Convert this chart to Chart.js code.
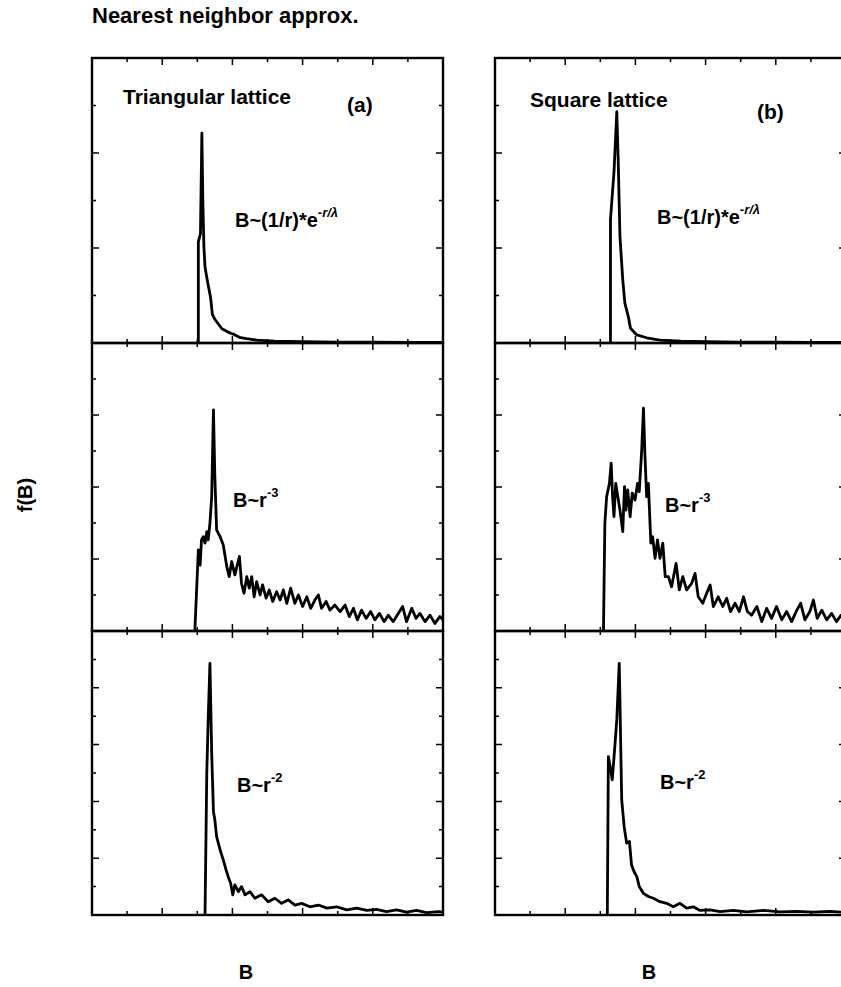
<!DOCTYPE html>
<html>
<head>
<meta charset="utf-8">
<script src="https://cdn.jsdelivr.net/npm/chart.js@4/dist/chart.umd.min.js"></script>
<style>
  html, body { margin: 0; padding: 0; background: #fff; overflow: hidden; width: 841px; height: 987px; }
  body { position: relative; font-family: "Liberation Sans", Arial, Helvetica, sans-serif; font-weight: bold; color: #000; }
  canvas { position: absolute; }
  .t { position: absolute; line-height: 1; white-space: nowrap; }
  .t sup { font-size: 13px; position: relative; top: -4px; vertical-align: top; }
  .t sup i { font-style: italic; }
</style>
</head>
<body>
<div class="t" style="left:92px; top:5px; font-size:22px;">Nearest neighbor approx.</div>
<div class="t" style="left:123px; top:86px; font-size:21px;">Triangular lattice</div>
<div class="t" style="left:347px; top:94px; font-size:21px;">(a)</div>
<div class="t" style="left:530px; top:89px; font-size:21px;">Square lattice</div>
<div class="t" style="left:757px; top:101px; font-size:21px;">(b)</div>

<div class="t" style="left:235px; top:210px; font-size:20px;">B~(1/r)*e<sup>-<i>r/λ</i></sup></div>
<div class="t" style="left:657px; top:207px; font-size:20px;">B~(1/r)*e<sup>-<i>r/λ</i></sup></div>
<div class="t" style="left:233px; top:490px; font-size:20px;">B~r<sup>-3</sup></div>
<div class="t" style="left:665px; top:495px; font-size:20px;">B~r<sup>-3</sup></div>
<div class="t" style="left:237px; top:775px; font-size:20px;">B~r<sup>-2</sup></div>
<div class="t" style="left:660px; top:772px; font-size:20px;">B~r<sup>-2</sup></div>

<div class="t" style="left:25px; top:495px; font-size:20px; transform: translate(-50%,-50%) rotate(-90deg);">f(B)</div>
<div class="t" style="left:246px; top:972px; font-size:20px; transform: translate(-50%,-50%);">B</div>
<div class="t" style="left:649px; top:972px; font-size:20px; transform: translate(-50%,-50%);">B</div>

<canvas id="triExp"></canvas>
<canvas id="triCube"></canvas>
<canvas id="triSq"></canvas>
<canvas id="sqExp"></canvas>
<canvas id="sqCube"></canvas>
<canvas id="sqSq"></canvas>

<script>
// Field distributions f(B) for nearest-neighbour sums, in arbitrary units.
// Triangular lattice, B ~ (1/r) e^(-r/lambda)
const triExpB = [3.02, 3.03, 3.09, 3.13, 3.16, 3.19, 3.22, 3.30, 3.38, 3.43, 3.50, 3.60, 3.70, 3.85, 3.97, 4.05, 4.20, 4.40, 4.70, 5.2, 6.0, 7.0, 8.0, 9.0, 10.0];
const triExpF = [0, 2.13, 2.3, 4.42, 2.9, 2.0, 1.6, 1.26, 0.95, 0.60, 0.50, 0.40, 0.30, 0.24, 0.20, 0.18, 0.12, 0.09, 0.06, 0.04, 0.03, 0.02, 0.02, 0.015, 0.01];

// Triangular lattice, B ~ r^-3
const triCubeB = [2.93, 3.03, 3.08, 3.12, 3.17, 3.22, 3.27, 3.31, 3.36, 3.41, 3.46, 3.50, 3.55, 3.65, 3.74, 3.84, 3.91, 3.98, 4.07, 4.20, 4.26, 4.33, 4.41, 4.48, 4.55, 4.62, 4.69, 4.79, 4.86, 4.96, 5.05, 5.15, 5.26, 5.36, 5.45, 5.55, 5.66, 5.78, 5.88, 6.00, 6.12, 6.23, 6.35, 6.45, 6.54, 6.67, 6.78, 6.92, 7.07, 7.21, 7.33, 7.45, 7.56, 7.68, 7.81, 7.94, 8.06, 8.19, 8.32, 8.44, 8.58, 8.73, 8.85, 8.96, 9.11, 9.23, 9.34, 9.49, 9.63, 9.77, 9.91, 10.0];
const triCubeF = [0, 2.25, 1.83, 2.53, 2.62, 2.44, 2.76, 2.53, 2.99, 3.73, 6.14, 4.29, 2.81, 2.62, 2.39, 1.79, 1.51, 1.93, 1.56, 2.07, 1.32, 1.05, 1.51, 1.19, 1.51, 0.95, 1.37, 1.0, 1.28, 0.91, 1.14, 0.82, 1.09, 0.86, 1.14, 0.77, 1.19, 0.77, 1.0, 0.68, 0.95, 0.63, 0.86, 1.0, 0.63, 0.82, 0.58, 0.72, 0.54, 0.72, 0.40, 0.63, 0.31, 0.58, 0.35, 0.54, 0.31, 0.49, 0.26, 0.44, 0.26, 0.49, 0.68, 0.26, 0.63, 0.35, 0.49, 0.26, 0.44, 0.21, 0.40, 0.31];

// Triangular lattice, B ~ r^-2
const triSqB = [3.22, 3.27, 3.31, 3.36, 3.41, 3.46, 3.50, 3.55, 3.65, 3.74, 3.82, 3.88, 3.95, 4.01, 4.07, 4.17, 4.26, 4.36, 4.50, 4.64, 4.83, 5.02, 5.21, 5.40, 5.59, 5.78, 5.97, 6.21, 6.45, 6.69, 6.97, 7.26, 7.54, 7.83, 8.11, 8.39, 8.68, 8.96, 9.25, 9.53, 9.87, 10.0];
const triSqF = [0, 4.99, 6.87, 8.86, 5.69, 3.64, 3.35, 2.76, 2.29, 1.94, 1.59, 1.35, 1.12, 0.71, 1.06, 0.82, 1.0, 0.71, 0.82, 0.59, 0.71, 0.47, 0.59, 0.41, 0.53, 0.35, 0.41, 0.29, 0.35, 0.24, 0.29, 0.18, 0.24, 0.16, 0.20, 0.12, 0.18, 0.10, 0.16, 0.08, 0.12, 0.10];

// Square lattice, B ~ (1/r) e^(-r/lambda)
const sqExpB = [3.28, 3.29, 3.39, 3.47, 3.51, 3.56, 3.64, 3.70, 3.80, 3.86, 4.04, 4.32, 4.70, 5.3, 6.0, 7.0, 8.0, 9.0, 10.0];
const sqExpF = [0, 2.6, 3.6, 4.87, 3.85, 2.24, 1.33, 0.84, 0.55, 0.31, 0.17, 0.11, 0.06, 0.04, 0.03, 0.02, 0.02, 0.015, 0.01];

// Square lattice, B ~ r^-3
const sqCubeB = [3.09, 3.13, 3.18, 3.26, 3.31, 3.35, 3.39, 3.44, 3.50, 3.56, 3.64, 3.69, 3.73, 3.78, 3.85, 3.91, 3.99, 4.06, 4.11, 4.18, 4.23, 4.27, 4.32, 4.37, 4.44, 4.49, 4.56, 4.63, 4.70, 4.78, 4.85, 4.94, 5.03, 5.16, 5.25, 5.35, 5.46, 5.60, 5.70, 5.79, 5.92, 6.03, 6.13, 6.22, 6.36, 6.49, 6.60, 6.71, 6.84, 6.96, 7.08, 7.19, 7.31, 7.46, 7.60, 7.74, 7.88, 8.02, 8.17, 8.31, 8.45, 8.60, 8.71, 8.83, 8.97, 9.07, 9.18, 9.31, 9.45, 9.59, 9.73, 9.86, 10.0];
const sqCubeF = [0, 2.99, 3.73, 4.10, 4.66, 3.73, 3.18, 4.10, 3.73, 3.36, 2.76, 4.01, 3.36, 3.92, 3.18, 3.83, 3.64, 4.10, 3.87, 5.03, 6.19, 4.94, 3.73, 4.10, 2.44, 2.62, 2.02, 2.53, 2.02, 2.44, 1.51, 1.51, 1.23, 1.88, 1.14, 1.51, 1.14, 1.32, 1.60, 0.95, 0.77, 1.05, 1.28, 0.68, 0.95, 0.68, 0.91, 0.54, 0.77, 0.54, 0.95, 0.54, 0.44, 0.68, 0.26, 0.63, 0.35, 0.68, 0.31, 0.54, 0.26, 0.58, 0.77, 0.31, 0.54, 0.86, 0.35, 0.58, 0.31, 0.49, 0.26, 0.44, 0.35];

// Square lattice, B ~ r^-2
const sqSqB = [3.20, 3.23, 3.28, 3.34, 3.40, 3.47, 3.54, 3.61, 3.68, 3.75, 3.83, 3.89, 3.96, 4.04, 4.11, 4.23, 4.37, 4.51, 4.70, 4.89, 5.08, 5.27, 5.46, 5.65, 5.84, 6.13, 6.41, 6.79, 7.17, 7.65, 8.12, 8.60, 9.07, 9.54, 9.86, 10.0];
const sqSqF = [0, 5.58, 5.23, 4.76, 5.70, 6.87, 8.86, 4.05, 3.11, 2.53, 2.59, 1.76, 1.53, 1.35, 1.0, 0.76, 0.65, 0.59, 0.47, 0.41, 0.29, 0.41, 0.24, 0.29, 0.16, 0.18, 0.12, 0.16, 0.11, 0.16, 0.11, 0.13, 0.10, 0.13, 0.10, 0.10];

// Axis ranges (arbitrary units) for the three rows
const fieldRange = [0, 10];
const rowMax = [6, 8, 10];

// Frame plus inward tick marks on all four sides
const framePlugin = {
  id: 'frame',
  afterDraw(chart) {
    const { ctx, chartArea: a, scales: { x, y } } = chart;
    ctx.save();
    ctx.strokeStyle = '#000';
    ctx.lineWidth = 1.5;
    ctx.beginPath();
    for (let v = x.min; v <= x.max + 1e-9; v += 1) {
      const px = x.getPixelForValue(v);
      const len = (Math.round(v) % 2 === 0) ? 7 : 4;
      ctx.moveTo(px, a.bottom); ctx.lineTo(px, a.bottom - len);
      ctx.moveTo(px, a.top); ctx.lineTo(px, a.top + len);
    }
    for (let v = y.min; v <= y.max + 1e-9; v += 1) {
      const py = y.getPixelForValue(v);
      const len = (Math.round(v) % 2 === 0) ? 7 : 4;
      ctx.moveTo(a.left, py); ctx.lineTo(a.left + len, py);
      ctx.moveTo(a.right, py); ctx.lineTo(a.right - len, py);
    }
    ctx.stroke();
    ctx.lineWidth = 2.4;
    ctx.strokeRect(a.left, a.top, a.right - a.left, a.bottom - a.top);
    ctx.restore();
  }
};

const PAD = 12;
function panel(id, left, top, w, h, xs, ys, ymax) {
  const cv = document.getElementById(id);
  cv.width = w + 2 * PAD;
  cv.height = h + 2 * PAD;
  cv.style.left = (left - PAD) + 'px';
  cv.style.top = (top - PAD) + 'px';
  cv.style.width = cv.width + 'px';
  cv.style.height = cv.height + 'px';
  new Chart(cv, {
    type: 'line',
    data: {
      datasets: [{
        data: xs.map((b, i) => ({ x: b, y: ys[i] })),
        borderColor: '#000',
        borderWidth: 2.8,
        pointRadius: 0,
        tension: 0,
        fill: false,
        borderJoinStyle: 'round'
      }]
    },
    options: {
      responsive: false,
      animation: false,
      devicePixelRatio: 1,
      layout: { padding: PAD },
      plugins: { legend: { display: false }, tooltip: { enabled: false }, title: { display: false } },
      scales: {
        x: { type: 'linear', min: fieldRange[0], max: fieldRange[1], display: false },
        y: { type: 'linear', min: 0, max: ymax, display: false }
      }
    },
    plugins: [framePlugin]
  });
}

const colLeft = [92, 495];
const colWidth = 351;
const rowTop = [58, 343, 631];
const rowHeight = [285, 288, 284];

panel('triExp', colLeft[0], rowTop[0], colWidth, rowHeight[0], triExpB, triExpF, rowMax[0]);
panel('triCube', colLeft[0], rowTop[1], colWidth, rowHeight[1], triCubeB, triCubeF, rowMax[1]);
panel('triSq', colLeft[0], rowTop[2], colWidth, rowHeight[2], triSqB, triSqF, rowMax[2]);
panel('sqExp', colLeft[1], rowTop[0], colWidth, rowHeight[0], sqExpB, sqExpF, rowMax[0]);
panel('sqCube', colLeft[1], rowTop[1], colWidth, rowHeight[1], sqCubeB, sqCubeF, rowMax[1]);
panel('sqSq', colLeft[1], rowTop[2], colWidth, rowHeight[2], sqSqB, sqSqF, rowMax[2]);
</script>
</body>
</html>
